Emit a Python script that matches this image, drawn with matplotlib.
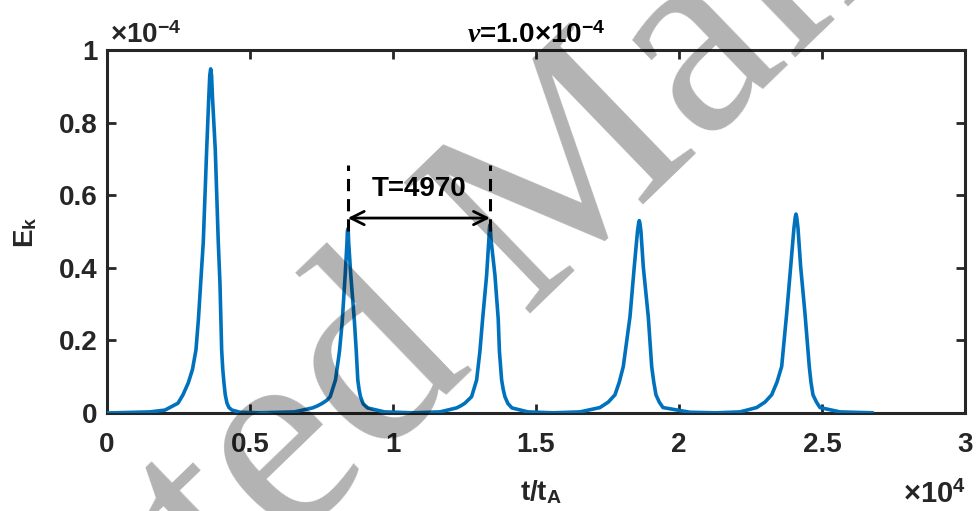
import matplotlib
import matplotlib.pyplot as plt

matplotlib.use("Agg")

plt.rcParams["font.family"] = ["Liberation Sans", "DejaVu Sans"]
plt.rcParams["font.weight"] = "bold"
plt.rcParams["mathtext.fontset"] = "custom"
plt.rcParams["mathtext.rm"] = "Liberation Sans:bold"
plt.rcParams["mathtext.bf"] = "Liberation Sans:bold"
plt.rcParams["mathtext.it"] = "Liberation Serif:italic"

LINE_COLOR = "#0072BD"
AXIS_COLOR = "#262626"

# time in t_A, kinetic energy in units of 1e-4
T_VALUES = [
    0, 1503, 2028, 2483, 2657, 2843, 2990, 3112, 3199, 3276, 3367, 3486, 3556,
    3594, 3626, 3657, 3689, 3787, 3892, 3951, 4010, 4049, 4091, 4136, 4196,
    4266, 4371, 4650,
    5333, 6556, 7186, 7371, 7535, 7686, 7805, 7990, 8130, 8224, 8329, 8392,
    8406, 8420, 8436, 8451, 8525, 8654, 8717, 8770, 8815, 8864, 8962, 9109, 9703,
    10700, 11642, 12226, 12376, 12516, 12750, 12925, 13040, 13135, 13275, 13355,
    13374, 13390, 13406, 13425, 13565, 13680, 13722, 13799, 13855, 13914, 14019,
    14159, 14719,
    15600, 16539, 17238, 17528, 17762, 17913, 18053, 18287, 18437, 18549, 18588,
    18612, 18636, 18671, 18752, 18927, 19046, 19119, 19196, 19311, 19441, 20385,
    21300, 22133, 22717, 23007, 23241, 23427, 23591, 23766, 23906, 24021, 24067,
    24091, 24115, 24161, 24255, 24406, 24556, 24615, 24685, 24808, 24930, 25629,
    26748,
]
EK_VALUES = [
    0.0, 0.003, 0.008, 0.027, 0.05, 0.083, 0.12, 0.174, 0.26, 0.357, 0.47, 0.725, 0.862,
    0.93, 0.948, 0.93, 0.87, 0.725, 0.47, 0.357, 0.174, 0.12, 0.083, 0.05, 0.027,
    0.015, 0.008, 0.002,
    0.0005, 0.003, 0.014, 0.02, 0.027, 0.035, 0.045, 0.091, 0.17, 0.25, 0.38, 0.47,
    0.50, 0.507, 0.50, 0.47, 0.38, 0.25, 0.17, 0.091, 0.065, 0.045, 0.025, 0.014, 0.003,
    0.0005, 0.003, 0.014, 0.02, 0.027, 0.045, 0.091, 0.17, 0.259, 0.38, 0.48,
    0.51, 0.518, 0.51, 0.48, 0.38, 0.259, 0.17, 0.091, 0.065, 0.045, 0.026,
    0.014, 0.003,
    0.0005, 0.003, 0.015, 0.03, 0.05, 0.085, 0.128, 0.265, 0.403, 0.50, 0.522,
    0.530, 0.522, 0.50, 0.403, 0.265, 0.128, 0.085, 0.05, 0.03, 0.015, 0.002,
    0.0005, 0.003, 0.015, 0.03, 0.05, 0.085, 0.128, 0.274, 0.403, 0.51, 0.54,
    0.548, 0.54, 0.51, 0.403, 0.274, 0.128, 0.085, 0.05, 0.03, 0.015, 0.003,
    0.0005,
]

X_TICKS = [0, 0.5, 1, 1.5, 2, 2.5, 3]
X_TICK_LABELS = ["0", "0.5", "1", "1.5", "2", "2.5", "3"]
Y_TICKS = [0, 0.2, 0.4, 0.6, 0.8, 1]
Y_TICK_LABELS = ["0", "0.2", "0.4", "0.6", "0.8", "1"]

PERIOD_START = 8420
PERIOD_END = 13390
PERIOD_LABEL = "T=4970"

fig = plt.figure(figsize=(9.76, 5.11), dpi=100)
ax = fig.add_axes([0.1096, 0.1918, 0.8791, 0.7104])

ax.plot([t / 1e4 for t in T_VALUES], EK_VALUES, color=LINE_COLOR, linewidth=2.6,
        solid_joinstyle="round", zorder=3)

# period marker
for t in (PERIOD_START, PERIOD_END):
    ax.plot([t / 1e4, t / 1e4], [0.50, 0.683], color="black", linewidth=2.2,
            linestyle=(0, (4, 2.6)), zorder=4)
ax.annotate("", xy=(PERIOD_END / 1e4, 0.537), xytext=(PERIOD_START / 1e4, 0.537),
            arrowprops=dict(arrowstyle="<->", color="black", lw=2.0,
                            mutation_scale=24, shrinkA=0, shrinkB=0), zorder=4)
ax.text((PERIOD_START + PERIOD_END) / 2e4, 0.617, PERIOD_LABEL, ha="center",
        va="center", fontsize=20, fontweight="bold", color="black")

ax.set_xlim(0, 3)
ax.set_ylim(0, 1)
ax.set_xticks(X_TICKS)
ax.set_xticklabels(X_TICK_LABELS)
ax.set_yticks(Y_TICKS)
ax.set_yticklabels(Y_TICK_LABELS)
ax.tick_params(axis="both", direction="in", length=6.5, width=2, colors=AXIS_COLOR,
               labelsize=20, top=True, right=True)
ax.tick_params(axis="x", pad=14)
ax.tick_params(axis="y", pad=7)
for label in ax.get_xticklabels() + ax.get_yticklabels():
    label.set_fontweight("bold")
for spine in ax.spines.values():
    spine.set_linewidth(2.2)
    spine.set_color(AXIS_COLOR)

W, H = 976, 511
fig.text(541 / W, 1 - 500 / H, r"t/t$_{\mathrm{A}}$", ha="center", va="baseline",
         fontsize=20, color=AXIS_COLOR)
fig.text(26 / W, 1 - 232 / H, r"E$_{\mathrm{k}}$", ha="center", va="center",
         rotation=90, fontsize=20, color=AXIS_COLOR)
fig.text(966 / W, 1 - 503 / H, r"$\times$10$^{4}$", ha="right", va="baseline",
         fontsize=21, color=AXIS_COLOR)
fig.text(110 / W, 1 - 43 / H, r"$\times$10$^{-4}$", ha="left", va="baseline",
         fontsize=20, color=AXIS_COLOR)
fig.text(536 / W, 1 - 43 / H, r"$\nu$=1.0$\times$10$^{-4}$", ha="center",
         va="baseline", fontsize=20, color="black")

# watermark
fig.text(578 / W, 1 - 268 / H, "Accepted Manuscript", family="Liberation Serif",
         fontweight="normal", fontsize=200, rotation=44, ha="center", va="baseline",
         rotation_mode="anchor", color="black", alpha=0.3, zorder=10)

fig.savefig("out.png", dpi=100)
